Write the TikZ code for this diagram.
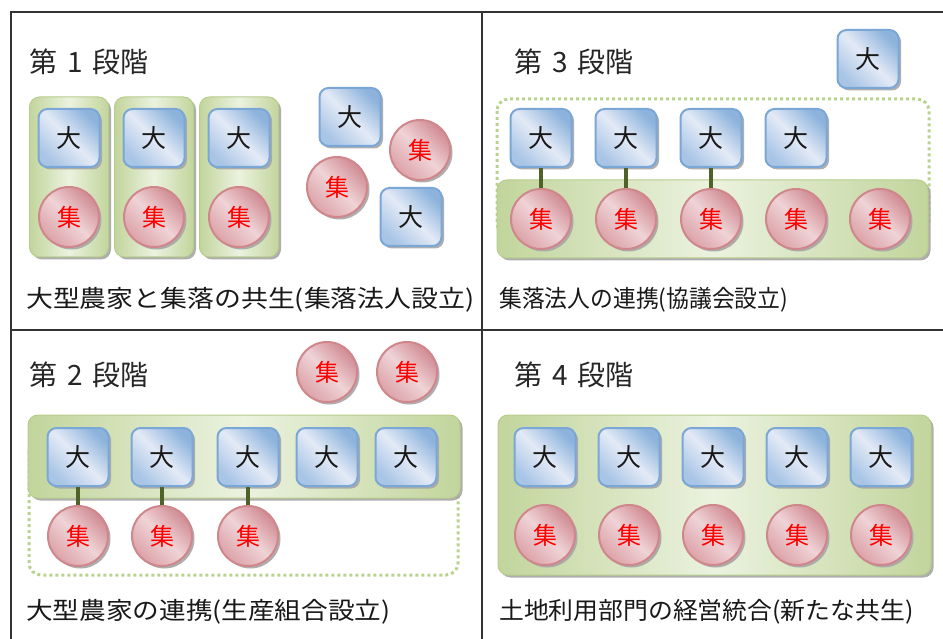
\documentclass[tikz,border=0pt]{standalone}
\usepackage{fontspec}
\usepackage{graphicx}
\setmainfont{Noto Sans CJK JP}
\newfontfamily\titlefont{Noto Sans CJK JP}[WordSpace=1.6]
\usetikzlibrary{shadows}
\definecolor{gridc}{HTML}{333333}
\definecolor{blueborder}{HTML}{7BA7D6}
\definecolor{bluelight}{HTML}{E3EAF6}
\definecolor{bluemid}{HTML}{A9C5E6}
\definecolor{bluedark}{HTML}{8DB3DC}
\definecolor{redborder}{HTML}{D0878C}
\definecolor{redlight}{HTML}{EFD3D6}
\definecolor{redmid}{HTML}{DCA2A8}
\definecolor{reddark}{HTML}{D08A92}
\definecolor{greenedge}{HTML}{C2D59C}
\definecolor{greencenter}{HTML}{EBF2DF}
\definecolor{greenborder}{HTML}{B7CD8C}
\definecolor{dotgreen}{HTML}{B9D38F}
\definecolor{linkc}{HTML}{4F6228}
\definecolor{shadowc}{HTML}{A6A6A6}
\begin{document}
\begin{tikzpicture}[x=1pt,y=-1pt,
  gridline/.style={draw=gridc, line width=2.5pt},
  shad/.style={drop shadow={shadow xshift=2.5pt, shadow yshift=-2.5pt, fill=shadowc, opacity=0.9}},
  dai/.style={shad, draw=blueborder, line width=2pt, rounded corners=9pt,
    minimum width=61pt, minimum height=58pt, inner sep=0pt,
    left color=bluemid, right color=bluedark, middle color=bluelight, shading angle=135,
    font=\fontsize{25}{25}\selectfont, text=black!90},
  shu/.style={shad, circle, draw=redborder, line width=2pt, minimum size=60pt, inner sep=0pt,
    left color=redmid, right color=reddark, middle color=redlight, shading angle=135,
    font=\fontsize{24}{24}\selectfont, text=red},
  greenbox/.style={shad, draw=greenborder, line width=1pt, rounded corners=10pt,
    left color=greenedge, right color=greenedge, middle color=greencenter},
  dotbox/.style={draw=dotgreen, line width=3pt, dash pattern=on 3pt off 3pt, rounded corners=12pt},
  link/.style={draw=linkc, line width=4pt},
  title/.style={anchor=west, inner sep=0pt, text=black!85, font=\titlefont\fontsize{28}{28}\selectfont},
  caption/.style={anchor=west, inner sep=0pt, text=black!90, font=\fontsize{24}{24}\selectfont}
]
\useasboundingbox (0,0) rectangle (943,639);
\fill[white] (0,0) rectangle (943,639);

% ---------- Stage 1 ----------
\node[title] (t1) at (29,62) {第 1 段階};
\foreach \c/\i in {69/1,154/2,239/3}{
  \path[greenbox] (\c-39.5,97) rectangle (\c+39.5,257);
  \node[dai] (a\i) at (\c,138) {大};
  \node[shu] (b\i) at (\c,217) {集};
}
\node[dai] (a4) at (350,117) {大};
\node[shu] (b4) at (420,150) {集};
\node[shu] (b5) at (337,187) {集};
\node[dai] (a5) at (411,217) {大};
\node[caption] (c1) at (26,300) {\scalebox{1.12}[1]{大型農家と集落の共生(集落法人設立)}};

% ---------- Stage 3 ----------
\node[title] (t3) at (514,62) {第 3 段階};
\node[dai] (p0) at (868,59) {大};
\path[dotbox] (497,99) rectangle (929,235);
\path[greenbox] (497,180) rectangle (928,258);
\foreach \c/\i in {541/1,626/2,711/3,796/4}{
  \node[dai] (p\i) at (\c,138) {大};
}
\foreach \c/\i in {541/1,626/2,711/3,796/4,880/5}{
  \node[shu] (q\i) at (\c,219) {集};
}
\foreach \i in {1,2,3}{ \draw[link] (p\i.south) -- (q\i.north); }
\node[caption] (c3) at (499,300) {\scalebox{0.95}[1]{集落法人の連携(協議会設立)}};

% ---------- Stage 2 ----------
\node[title] (t2) at (29,375) {第 2 段階};
\node[shu] (r6) at (327,372) {集};
\node[shu] (r7) at (407,372) {集};
\path[dotbox] (29,440) rectangle (458,575);
\path[greenbox] (28,415) rectangle (460,498);
\foreach \c/\i in {78/1,162/2,248/3,327/4,406/5}{
  \node[dai] (m\i) at (\c,457) {大};
}
\foreach \c/\i in {78/1,162/2,248/3}{
  \node[shu] (r\i) at (\c,536) {集};
}
\foreach \i in {1,2,3}{ \draw[link] (m\i.south) -- (r\i.north); }
\node[caption] (c2) at (26,612) {\scalebox{1.11}[1]{大型農家の連携(生産組合設立)}};

% ---------- Stage 4 ----------
\node[title] (t4) at (514,375) {第 4 段階};
\path[greenbox] (498,415) rectangle (931,575);
\foreach \c/\i in {545/1,629/2,713/3,797/4,881/5}{
  \node[dai] (u\i) at (\c,457) {大};
  \node[shu] (v\i) at (\c,535) {集};
}
\node[caption] (c4) at (499,612) {\scalebox{1.035}[1]{土地利用部門の経営統合(新たな共生)}};

% ---------- Grid ----------
\draw[gridline] (11,639) -- (11,12) -- (943,12);
\draw[gridline] (482,12) -- (482,639);
\draw[gridline] (11,330) -- (943,330);
\end{tikzpicture}
\end{document}
